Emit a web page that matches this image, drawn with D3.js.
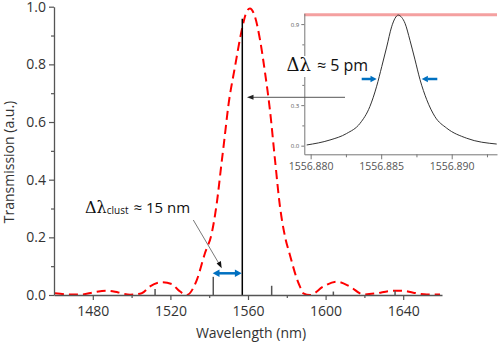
<!DOCTYPE html>
<html>
<head>
<meta charset="utf-8">
<script src="https://cdn.jsdelivr.net/npm/d3@7"></script>
<style>
	body { margin: 0; background: #fff; }
	svg { display: block; font-family: "Open Sans", sans-serif; }
</style>
</head>
<body>
<div id="chart"></div>
<script>
// envelope of the cluster (red dashed)
const envWl = [1460.5, 1468.2, 1474.3, 1480.3, 1487.2, 1493.1, 1499.2, 1505.2, 1509.5, 1515.5, 1520.7, 1524.1,
	1528.4, 1533.6, 1537.8, 1541.3, 1543.9, 1546.4, 1547.8, 1549.8, 1553.3, 1556.8, 1559.3, 1561.0, 1563.6,
	1566.2, 1568.8, 1571.3, 1573.9, 1576.5, 1579.1, 1581.6, 1585.1, 1586.8, 1588.5, 1592.0, 1598.8, 1605.7,
	1612.6, 1619.4, 1626.3, 1633.2, 1639.2, 1645.2, 1652.1, 1659.0];
const envT = [0.006, 0.002, 0.002, 0.009, 0.015, 0.009, 0.001, 0.006, 0.030, 0.044, 0.038, 0.017,
	0.000, 0.052, 0.145, 0.214, 0.318, 0.460, 0.538, 0.653, 0.792, 0.919, 0.983, 0.994, 0.965,
	0.885, 0.770, 0.642, 0.470, 0.306, 0.202, 0.139, 0.058, 0.029, 0.006, 0.000, 0.029, 0.046,
	0.029, 0.002, 0.006, 0.014, 0.015, 0.008, 0.002, 0.002];

// resonance lines
const lineWl = [1512.1, 1542.1, 1557.06, 1572.2, 1604.0, 1635.8];
const lineT = [0.021, 0.063, 0.958, 0.032, 0.012, 0.015];

// inset: zoom on the main resonance
const insetWl = [1556.87972, 1556.88137, 1556.88255, 1556.88350, 1556.88420, 1556.88468, 1556.88504,
	1556.88539, 1556.88574, 1556.88598, 1556.88621, 1556.88645, 1556.88669, 1556.88704, 1556.88740,
	1556.88775, 1556.88823, 1556.88881, 1556.88964, 1556.89106, 1556.89319];
const insetT = [0.005, 0.042, 0.090, 0.165, 0.290, 0.440, 0.585, 0.730, 0.880, 0.943, 0.967, 0.950,
	0.906, 0.780, 0.635, 0.490, 0.340, 0.215, 0.130, 0.055, 0.012];
const insetEnvWl = [1556.87955, 1556.89321];
const insetEnvT = [0.97, 0.97];

// ticks
const xTicks = [1480, 1520, 1560, 1600, 1640];
const xMinor = [1500, 1540, 1580, 1620];
const yTicks = [0, 0.2, 0.4, 0.6, 0.8, 1.0];
const yMinor = [0.1, 0.3, 0.5, 0.7, 0.9];
const insetXTicks = [1556.880, 1556.885, 1556.890];
const insetXMinor = [1556.8825, 1556.8875, 1556.8925];
const insetYTicks = [0, 0.3, 0.6, 0.9];
const insetYHidden = [0.6]; // covered by the label in the original
const insetYMinor = [0.15, 0.45, 0.75];

const W = 498, H = 343;
const svg = d3.select("#chart").append("svg").attr("width", W).attr("height", H);

const x = d3.scaleLinear().domain([1460, 1660]).range([54, 442]);
const y = d3.scaleLinear().domain([0, 1]).range([295, 6.7]);

const env = envWl.map((w, i) => ({ w, t: envT[i] }));
const lines = lineWl.map((w, i) => ({ w, t: lineT[i] }));

// envelope
svg.append("path")
	.datum(env)
	.attr("fill", "none")
	.attr("stroke", "#ff0000")
	.attr("stroke-width", 2)
	.attr("stroke-dasharray", "9,5")
	.attr("d", d3.line().x(d => x(d.w)).y(d => y(d.t)).curve(d3.curveMonotoneX));

// resonance lines
svg.selectAll("line.res")
	.data(lines)
	.enter()
	.append("line")
	.attr("class", "res")
	.attr("x1", d => x(d.w)).attr("x2", d => x(d.w))
	.attr("y1", y(0)).attr("y2", d => y(d.t))
	.attr("stroke", d => d.t > 0.5 ? "#000" : "#555")
	.attr("stroke-width", 1.5);

function styleAxis(g, size) {
	g.select(".domain").attr("stroke", "#555").attr("stroke-width", 1.3);
	g.selectAll(".tick line").attr("stroke", "#555").attr("stroke-width", 1.2);
	g.selectAll("text").attr("fill", "#333").style("font-size", size + "px").style("font-family", "Open Sans");
}

// axes
const gx = svg.append("g").attr("transform", `translate(0,${y(0)})`)
	.call(d3.axisBottom(x).tickValues(xTicks).tickSize(5).tickSizeOuter(0).tickPadding(6).tickFormat(d3.format("d")));
styleAxis(gx, 14);
const gxm = svg.append("g").attr("transform", `translate(0,${y(0)})`)
	.call(d3.axisBottom(x).tickValues(xMinor).tickSize(3).tickSizeOuter(0).tickFormat(""));
styleAxis(gxm, 14);
gxm.select(".domain").remove();

const gy = svg.append("g").attr("transform", `translate(${x(1460)},0)`)
	.call(d3.axisLeft(y).tickValues(yTicks).tickSize(5).tickSizeOuter(0).tickPadding(3).tickFormat(d3.format(".1f")));
styleAxis(gy, 14);
const gym = svg.append("g").attr("transform", `translate(${x(1460)},0)`)
	.call(d3.axisLeft(y).tickValues(yMinor).tickSize(3).tickSizeOuter(0).tickFormat(""));
styleAxis(gym, 14);
gym.select(".domain").remove();

svg.append("text")
	.attr("x", 251).attr("y", 338)
	.attr("text-anchor", "middle")
	.attr("fill", "#333")
	.style("font-size", "14px")
	.text("Wavelength (nm)");

svg.append("text")
	.attr("transform", "translate(14,162) rotate(-90)")
	.attr("text-anchor", "middle")
	.attr("fill", "#333")
	.style("font-size", "14px")
	.text("Transmission (a.u.)");

// cluster annotation
const t1 = svg.append("text").attr("x", 85).attr("y", 213).attr("fill", "#111");
t1.append("tspan").style("font-family", "'DejaVu Serif', 'Liberation Serif', serif").style("font-weight", "300").style("font-size", "16px").text("Δλ");
t1.append("tspan").attr("dy", 1).style("font-size", "10px").text("clust");
t1.append("tspan").attr("dy", -1).attr("dx", 5).style("font-size", "15px").text("≈ 15 nm");

svg.append("line")
	.attr("x1", 193.3).attr("y1", 220).attr("x2", 219.5).attr("y2", 264.5)
	.attr("stroke", "#555").attr("stroke-width", 0.8);
svg.append("path").attr("d", "M221.7,268.3 L216.6,263.6 L220.9,261.1 Z").attr("fill", "#111");

// blue double arrow
const blue = "#0070c0";
svg.append("line").attr("x1", 218).attr("x2", 236.5).attr("y1", 273.3).attr("y2", 273.3)
	.attr("stroke", blue).attr("stroke-width", 2.5);
svg.append("path").attr("d", "M212.7,273.3 L219.5,269.6 L219.5,277 Z").attr("fill", blue);
svg.append("path").attr("d", "M241.7,273.3 L234.9,269.6 L234.9,277 Z").attr("fill", blue);

// inset
const ix = d3.scaleLinear().domain([1556.87955, 1556.89321]).range([304.3, 497]);
const iy = d3.scaleLinear().domain([-0.064, 0.98]).range([154.3, 13.3]);

svg.append("rect").attr("x", 304.3).attr("y", 13.3).attr("width", 194).attr("height", 141).attr("fill", "#fff");

const ienv = insetEnvWl.map((w, i) => ({ w, t: insetEnvT[i] }));
svg.append("path")
	.datum(ienv)
	.attr("fill", "none")
	.attr("stroke", "#f4a0a0")
	.attr("stroke-width", 3)
	.attr("d", d3.line().x(d => ix(d.w)).y(d => iy(d.t)));

const ires = insetWl.map((w, i) => ({ w, t: insetT[i] }));
svg.append("path")
	.datum(ires)
	.attr("fill", "none")
	.attr("stroke", "#333")
	.attr("stroke-width", 1)
	.attr("d", d3.line().x(d => ix(d.w)).y(d => iy(d.t)).curve(d3.curveMonotoneX));

function styleInset(g, size) {
	g.select(".domain").attr("stroke", "#777").attr("stroke-width", 1);
	g.selectAll(".tick line").attr("stroke", "#777").attr("stroke-width", 1);
	g.selectAll("text").attr("fill", "#555").style("font-size", size + "px").style("font-family", "Open Sans");
}

const igx = svg.append("g").attr("transform", `translate(0,${iy.range()[0]})`)
	.call(d3.axisBottom(ix).tickValues(insetXTicks).tickSize(5).tickSizeOuter(0).tickPadding(3).tickFormat(d3.format(".3f")));
styleInset(igx, 10.5);
const igxm = svg.append("g").attr("transform", `translate(0,${iy.range()[0]})`)
	.call(d3.axisBottom(ix).tickValues(insetXMinor).tickSize(3).tickSizeOuter(0).tickFormat(""));
styleInset(igxm, 10.5);
igxm.select(".domain").remove();

const igy = svg.append("g").attr("transform", `translate(${ix.range()[0]},0)`)
	.call(d3.axisLeft(iy).tickValues(insetYTicks).tickSize(3).tickSizeOuter(0).tickPadding(2)
		.tickFormat(d => insetYHidden.includes(d) ? "" : d3.format(".1f")(d)));
styleInset(igy, 6);
const igym = svg.append("g").attr("transform", `translate(${ix.range()[0]},0)`)
	.call(d3.axisLeft(iy).tickValues(insetYMinor).tickSize(2).tickSizeOuter(0).tickFormat(""));
styleInset(igym, 6);
igym.select(".domain").remove();

// pointer from inset to main line
svg.append("line").attr("x1", 345).attr("x2", 252).attr("y1", 97.3).attr("y2", 97.3)
	.attr("stroke", "#555").attr("stroke-width", 1);
svg.append("path").attr("d", "M247,97.3 L253.5,94.8 L253.5,99.8 Z").attr("fill", "#222");

// linewidth annotation
svg.append("rect").attr("x", 285).attr("y", 56).attr("width", 88).attr("height", 21).attr("fill", "#fff");
const t2 = svg.append("text").attr("x", 286.5).attr("y", 70.5).attr("fill", "#111");
t2.append("tspan").style("font-family", "'DejaVu Serif', 'Liberation Serif', serif").style("font-weight", "300").style("font-size", "18px").text("Δλ");
t2.append("tspan").attr("dx", 6).style("font-size", "16px").text("≈ 5 pm");

svg.append("line").attr("x1", 361.7).attr("x2", 371.5).attr("y1", 79).attr("y2", 79)
	.attr("stroke", blue).attr("stroke-width", 2.5);
svg.append("path").attr("d", "M376.7,79 L370.5,75.8 L370.5,82.2 Z").attr("fill", blue);
svg.append("line").attr("x1", 437.3).attr("x2", 427.5).attr("y1", 79).attr("y2", 79)
	.attr("stroke", blue).attr("stroke-width", 2.5);
svg.append("path").attr("d", "M421.7,79 L427.9,75.8 L427.9,82.2 Z").attr("fill", blue);
</script>
</body>
</html>
